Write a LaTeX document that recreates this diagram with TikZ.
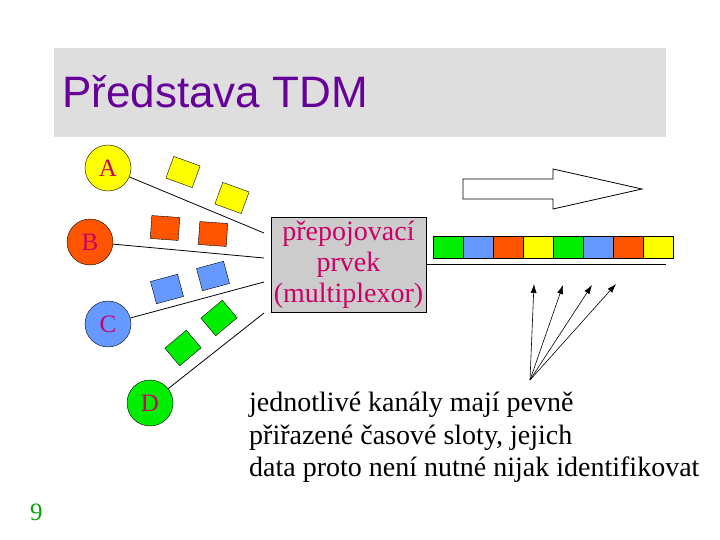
\documentclass[tikz,border=0pt]{standalone}
\usepackage{fontspec}
\setmainfont{Liberation Serif}
\newfontfamily\titlefont{Liberation Sans}
\usetikzlibrary{arrows.meta}
\definecolor{ty}{HTML}{FFFF00}
\definecolor{tr}{HTML}{FF5500}
\definecolor{tb}{HTML}{6699FF}
\definecolor{tg}{HTML}{00EE00}
\definecolor{mag}{HTML}{CC0066}
\definecolor{purp}{HTML}{660099}
\tikzset{
 chan/.style={circle,draw=black,minimum size=46pt,inner sep=0pt,text=mag,font=\fontsize{25}{27}\selectfont},
 pkt/.style={draw=black,minimum width=28pt,minimum height=23pt,inner sep=0pt},
 cell/.style={draw=black,minimum width=30pt,minimum height=22pt,inner sep=0pt,anchor=west},
 wire/.style={black,line width=0.8pt},
 ptr/.style={black,line width=0.6pt,-{Latex[length=9pt,width=6pt]}},
 txt/.style={font=\fontsize{28}{32}\selectfont,anchor=base west,inner sep=0pt}
}
\begin{document}
\begin{tikzpicture}[x=1pt,y=-1pt]
\useasboundingbox[fill=white] (0,0) rectangle (720,540);
\fill[black!13] (54,48) rectangle (666,137);
\node[anchor=base west,inner sep=0pt,text=purp,font=\titlefont\fontsize{44}{46}\selectfont] (title) at (62,108) {Představa TDM};
\node[chan,fill=ty] (A) at (108,168) {A};
\node[chan,fill=tr] (B) at (90,242) {B};
\node[chan,fill=tb] (C) at (108,324) {C};
\node[chan,fill=tg] (D) at (150,403) {D};
\node[draw=black,fill=black!20,minimum width=155pt,minimum height=95pt,inner sep=0pt,align=center,text=mag,font=\fontsize{28}{31}\selectfont] (mux) at (348.5,264.5) {přepojovací\\prvek\\(multiplexor)};
\coordinate (ma) at (264,233);
\coordinate (mb) at (264,258);
\coordinate (mc) at (264,282);
\coordinate (md) at (264,313);
\draw[wire] (A) -- (ma);
\draw[wire] (B) -- (mb);
\draw[wire] (C) -- (mc);
\draw[wire] (D) -- (md);
\node[pkt,fill=ty,rotate=-20] (y1) at (183,172) {};
\node[pkt,fill=ty,rotate=-20] (y2) at (232,198) {};
\node[pkt,fill=tr,rotate=-4] (r1) at (165,228) {};
\node[pkt,fill=tr,rotate=-4] (r2) at (213,234) {};
\node[pkt,fill=tb,rotate=15] (b1) at (167,289) {};
\node[pkt,fill=tb,rotate=15] (b2) at (213,276) {};
\node[pkt,fill=tg,rotate=40] (g1) at (183,348) {};
\node[pkt,fill=tg,rotate=40] (g2) at (219,318) {};
\foreach \c [count=\i from 0] in {tg,tb,tr,ty,tg,tb,tr,ty}
  \node[cell,fill=\c] (s\i) at (433+30*\i,247) {};
\coordinate (le) at (666,264);
\draw[wire] (mux.east |- le) -- (le);
\draw[black,line width=0.8pt,fill=white] (463,179) -- (553,179) -- (553,169) -- (642,189) -- (553,209) -- (553,199) -- (463,199) -- cycle;
\coordinate (o) at (530,380);
\coordinate (p1) at (534,284);
\coordinate (p2) at (563,285);
\coordinate (p3) at (592,285);
\coordinate (p4) at (616,284);
\foreach \p in {p1,p2,p3,p4} \draw[ptr] (o) -- (\p);
\node[txt] (t1) at (249,411) {jednotlivé kanály mají pevně};
\node[txt] (t2) at (249,444) {přiřazené časové sloty, jejich};
\node[txt] (t3) at (249,476) {data proto není nutné nijak identifikovat};
\node[anchor=base west,inner sep=0pt,text=tg!70!black,font=\fontsize{25}{27}\selectfont] (num) at (30,520) {9};
\end{tikzpicture}
\end{document}
